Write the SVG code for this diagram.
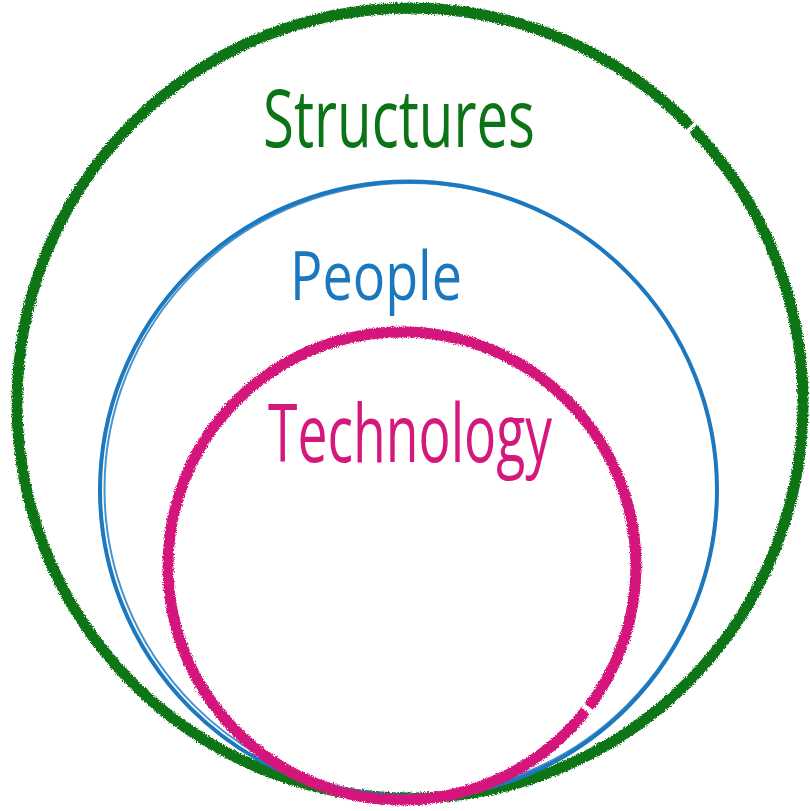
<svg xmlns="http://www.w3.org/2000/svg" width="810" height="811" viewBox="0 0 810 811">
  <defs>
    <!-- crayon-like rough edge for the thick rings -->
    <filter id="crayon" x="-5%" y="-5%" width="110%" height="110%">
      <feTurbulence type="fractalNoise" baseFrequency="0.9" numOctaves="2" seed="3" result="noise"/>
      <feDisplacementMap in="SourceGraphic" in2="noise" scale="4.5" xChannelSelector="R" yChannelSelector="G"/>
    </filter>
    <filter id="pencil" x="-5%" y="-5%" width="110%" height="110%">
      <feTurbulence type="fractalNoise" baseFrequency="0.6" numOctaves="1" seed="7" result="noise"/>
      <feDisplacementMap in="SourceGraphic" in2="noise" scale="1.5" xChannelSelector="R" yChannelSelector="G"/>
    </filter>
  </defs>
  <style>
    .ring { fill: none; }
    .label { font-family: "Open Sans", "Noto Sans", "Liberation Sans", sans-serif; text-anchor: middle; }
  </style>
  <rect width="810" height="811" fill="#ffffff"/>

  <g id="structures">
    <ellipse class="ring" cx="410" cy="403" rx="393" ry="395" stroke="#0b7416" stroke-width="11" filter="url(#crayon)" stroke-dasharray="2168 4 400"/>
    <text class="label" x="399" y="147" font-size="80" fill="#0b7416" textLength="272" lengthAdjust="spacingAndGlyphs">Structures</text>
  </g>

  <g id="people">
    <g filter="url(#pencil)">
      <circle class="ring" cx="408.5" cy="490" r="308.5" stroke="#1b78bf" stroke-width="4"/>
      <circle class="ring" cx="410.5" cy="489" r="306" stroke="#1b78bf" stroke-width="2" opacity="0.8"/>
    </g>
    <text class="label" x="376" y="300" font-size="68" fill="#1b78bf" textLength="172" lengthAdjust="spacingAndGlyphs">People</text>
  </g>

  <g id="technology">
    <circle class="ring" cx="402" cy="566" r="234" stroke="#d4187c" stroke-width="11" filter="url(#crayon)" stroke-dasharray="151 5 2000"/>
    <text class="label" x="410" y="462" font-size="80" fill="#d4187c" textLength="284" lengthAdjust="spacingAndGlyphs">Technology</text>
  </g>
</svg>
